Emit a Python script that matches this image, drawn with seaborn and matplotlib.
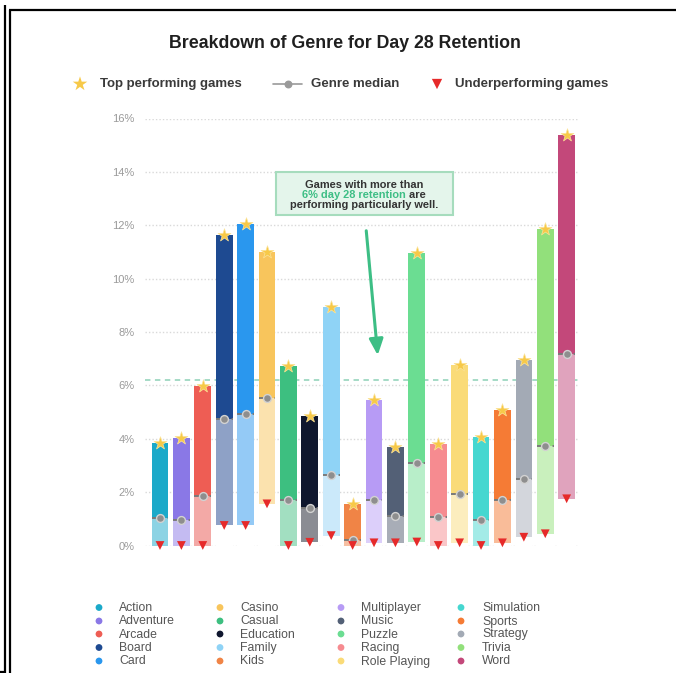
import numpy as np
import pandas as pd
import matplotlib
matplotlib.use("Agg")
import matplotlib.pyplot as plt
import seaborn as sns
from matplotlib.patches import Rectangle

# ---------------- data ----------------
genres = ["Action", "Adventure", "Arcade", "Board", "Card",
          "Casino", "Casual", "Education", "Family", "Kids",
          "Multiplayer", "Music", "Puzzle", "Racing", "Role Playing",
          "Simulation", "Sports", "Strategy", "Trivia", "Word"]
top_values = [3.85, 4.04, 5.97, 11.62, 12.06, 11.00, 6.72, 4.84, 8.94, 1.54,
              5.47, 3.69, 10.96, 3.81, 6.77, 4.06, 5.06, 6.96, 11.87, 15.37]
median_values = [1.02, 0.94, 1.84, 4.75, 4.94, 5.52, 1.69, 1.41, 2.65, 0.21,
                 1.72, 1.11, 3.09, 1.06, 1.94, 0.94, 1.72, 2.49, 3.71, 7.19]
low_values = [0.00, 0.00, 0.00, 0.75, 0.75, 1.56, 0.00, 0.12, 0.37, 0.00,
              0.10, 0.10, 0.13, 0.00, 0.10, 0.00, 0.10, 0.31, 0.44, 1.75]
dark_colors = ["#1BA9C9", "#8A78E6", "#EE5D54", "#1E4A91", "#2A97EE",
               "#F8C55C", "#3DBF80", "#0F172E", "#8FD3F6", "#F08446",
               "#B79BF5", "#536076", "#6BDD92", "#F68B90", "#FADB78",
               "#46D7D0", "#F57B35", "#A3AAB5", "#92E07B", "#C3487A"]
light_colors = ["#8CD3E4", "#C4BBF2", "#F3A9A6", "#8EA1C6", "#94CAF6",
                "#FBE2AE", "#A2DFC1", "#8A8C93", "#CBE9FA", "#F6BFA2",
                "#DCCFFA", "#A8ADB7", "#B8EEC9", "#FAC6C8", "#FCEDBE",
                "#A3EBE7", "#F9BC99", "#D3D6DC", "#C9F0BD", "#E0A3BD"]
threshold = 6.2
ytick_values = [0, 2, 4, 6, 8, 10, 12, 14, 16]
ytick_labels = ["0%", "2%", "4%", "6%", "8%", "10%", "12%", "14%", "16%"]
title = "Breakdown of Genre for Day 28 Retention"
marker_legend = ["Top performing games", "Genre median", "Underperforming games"]
note_lines = ["Games with more than", "6% day 28 retention", " are",
              "performing particularly well."]

df = pd.DataFrame({"genre": genres, "top": top_values,
                   "median": median_values, "low": low_values})

# ---------------- figure ----------------
sns.set_theme(style="white")
plt.rcParams["font.family"] = ["Liberation Sans", "DejaVu Sans"]

W, H = 676, 673
fig = plt.figure(figsize=(W / 100, H / 100), dpi=100)
fig.patch.set_facecolor("white")

ax = fig.add_axes([145 / W, (H - 545.5) / H, 433 / W, 427 / H])
ax.set_facecolor("white")

bw = 0.78
sns.barplot(data=df, x="genre", y="top", hue="genre", palette=dark_colors,
            saturation=1, width=bw, legend=False, errorbar=None,
            linewidth=0, ax=ax, zorder=2)
sns.barplot(data=df, x="genre", y="median", hue="genre", palette=light_colors,
            saturation=1, width=bw, legend=False, errorbar=None,
            linewidth=0, ax=ax, zorder=3)
sns.barplot(data=df, x="genre", y="low", color="white",
            saturation=1, width=bw, errorbar=None,
            linewidth=0, ax=ax, zorder=4)

pos = np.arange(len(genres))
# median markers
ax.hlines(median_values, pos - bw / 2, pos + bw / 2, colors="#7a7a7a",
          linewidth=1.4, linestyles=(0, (2.5, 1.5)), zorder=5)
ax.scatter(pos, median_values, s=32, marker="o", facecolor="#8e8e8e",
           edgecolor="#d2d2d2", linewidth=1, zorder=6, clip_on=False)
# top stars
ax.scatter(pos, top_values, s=95, marker="*", facecolor="#F7C948",
           edgecolor="#FBE39A", linewidth=0.5, zorder=7, clip_on=False)
# bottom triangles
ax.scatter(pos, low_values, s=40, marker="v", facecolor="#E62A2A",
           edgecolor="none", zorder=7, clip_on=False)

# threshold line
ax.axhline(threshold, color="#9ED8C2", linewidth=1.3,
           linestyle=(0, (3, 2.5)), zorder=1)

ax.set_xlim(-0.7, 19.53)
ax.set_ylim(0, 16)
ax.set_yticks(ytick_values)
ax.set_yticklabels(ytick_labels, fontsize=8, color="#9a9a9a")
ax.tick_params(axis="y", length=0, pad=7.5)
ax.set_xticks([])
ax.set_xlabel("")
ax.set_ylabel("")
ax.grid(axis="y", color="#d9d9d9", linestyle=(0, (1, 1.5)), linewidth=1)
ax.set_axisbelow(True)
for s in ax.spines.values():
    s.set_visible(False)

# ---------------- overlay (pixel coordinates) ----------------
ov = fig.add_axes([0, 0, 1, 1], zorder=10)
ov.set_xlim(0, W)
ov.set_ylim(H, 0)
ov.axis("off")
ov.patch.set_alpha(0)

# frame lines of the screenshot
fl = dict(color="black", linewidth=1.6, solid_capstyle="butt")
ov.plot([5, 5], [5, H], **fl)
ov.plot([10, 10], [9.5, H], **fl)
ov.plot([9, W], [9.5, 9.5], **fl)
ov.plot([0, 5], [671.5, 671.5], **fl)

# title
ov.text(345, 44, title, ha="center", va="center", fontsize=12.8,
        fontweight="bold", color="#1f1f1f")

# top legend
ty = 84
lt = dict(va="center_baseline", ha="left", fontsize=9.5, fontweight="bold",
          color="#3a3a3a")
ov.scatter([80], [ty], s=120, marker="*", color="#F7C948", edgecolor="none")
ov.text(100, ty - 1.5, marker_legend[0], **lt)
ov.plot([273, 302], [ty, ty], color="#9a9a9a", linewidth=1.2)
ov.scatter([287.5], [ty], s=22, marker="o", color="#9a9a9a", zorder=3)
ov.text(311, ty - 1.5, marker_legend[1], **lt)
ov.scatter([437], [ty], s=55, marker="v", color="#E62A2A", edgecolor="none")
ov.text(455, ty - 1.5, marker_legend[2], **lt)

# annotation box
ov.add_patch(Rectangle((276, 172), 177, 43, facecolor="#E4F5EB",
                       edgecolor="#A6DCBD", linewidth=1.5))
nt = dict(va="center_baseline", fontsize=7.9, fontweight="bold")
ov.text(364, 184.5, note_lines[0], ha="center", color="#333333", **nt)
ov.text(406, 194.5, note_lines[1], ha="right", color="#3DBE85", **nt)
ov.text(406, 194.5, note_lines[2], ha="left", color="#333333", **nt)
ov.text(364, 204.5, note_lines[3], ha="center", color="#333333", **nt)
ov.annotate("", xy=(378, 358), xytext=(366, 228),
            arrowprops=dict(arrowstyle="-|>,head_length=0.8,head_width=0.35",
                            color="#3DBE85", linewidth=2.2))

# bottom genre legend
col_dot_x = [99, 220, 341, 461]
col_txt_x = [119, 240, 361, 482]
row_y = [607.5, 621, 634, 647.5, 661]
for i, (g, c) in enumerate(zip(genres, dark_colors)):
    col, row = divmod(i, 5)
    ov.scatter([col_dot_x[col]], [row_y[row]], s=24, marker="o", color=c,
               edgecolor="none")
    ov.text(col_txt_x[col], row_y[row] - 1, g, va="center_baseline", ha="left",
            fontsize=8.8, color="#555555")

fig.savefig("out.png", dpi=100, facecolor="white")
